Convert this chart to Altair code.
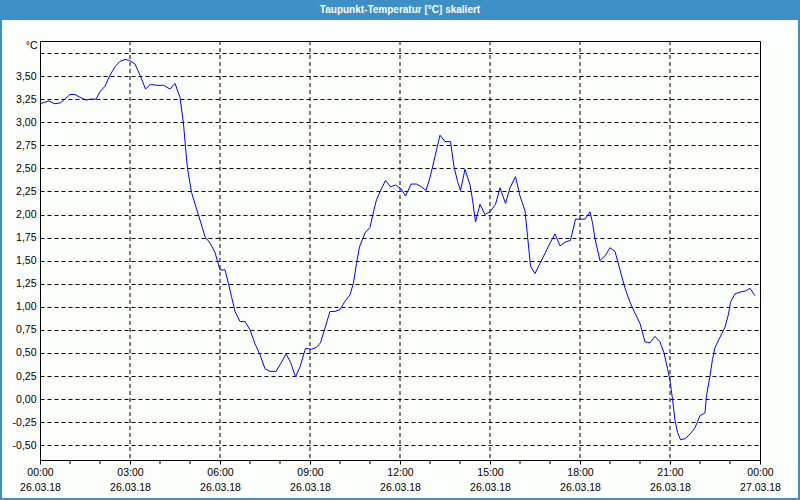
import altair as alt
import pandas as pd

TITLE = "Taupunkt-Temperatur [°C] skaliert"

# minutes since 26.03.18 00:00
minutes = [0, 17, 30, 41, 60, 70, 80, 92, 100, 112, 120, 130, 140, 150, 160, 170, 179, 190,
           200, 211, 221, 233, 247, 260, 270, 280, 287, 291, 295, 303, 312, 320, 330, 340,
           350, 360, 370, 377, 383, 390, 400, 410, 420, 430, 440, 450, 460, 472, 482, 492,
           501, 511, 520, 531, 543, 553, 561, 570, 580, 590, 600, 610, 620, 627, 633, 639,
           650, 660, 667, 673, 683, 691, 701, 711, 722, 731, 742, 753, 763, 772, 780, 790,
           800, 810, 821, 828, 835, 841, 850, 860, 865, 871, 880, 890, 900, 911, 920, 931,
           940, 951, 960, 970, 975, 981, 990, 1000, 1010, 1020, 1030, 1040, 1050, 1061,
           1071, 1080, 1090, 1100, 1105, 1110, 1120, 1131, 1140, 1150, 1160, 1170, 1180,
           1190, 1200, 1210, 1220, 1230, 1240, 1248, 1255, 1260, 1265, 1270, 1275, 1281,
           1290, 1300, 1310, 1320, 1330, 1333, 1340, 1345, 1350, 1360, 1370, 1377, 1381,
           1390, 1400, 1410, 1420, 1430]
values = [3.20, 3.23, 3.20, 3.21, 3.30, 3.30, 3.27, 3.24, 3.25, 3.25, 3.33, 3.39, 3.51, 3.60,
          3.66, 3.68, 3.67, 3.63, 3.51, 3.36, 3.41, 3.40, 3.40, 3.36, 3.42, 3.27, 2.98, 2.73,
          2.50, 2.24, 2.08, 1.94, 1.76, 1.69, 1.59, 1.40, 1.40, 1.25, 1.11, 0.95, 0.84, 0.84,
          0.75, 0.60, 0.48, 0.33, 0.30, 0.30, 0.39, 0.49, 0.40, 0.24, 0.35, 0.55, 0.54, 0.56,
          0.61, 0.77, 0.95, 0.95, 0.97, 1.06, 1.13, 1.26, 1.47, 1.65, 1.80, 1.86, 2.03, 2.16,
          2.28, 2.37, 2.30, 2.32, 2.28, 2.20, 2.33, 2.33, 2.30, 2.26, 2.40, 2.63, 2.86, 2.79,
          2.79, 2.52, 2.36, 2.26, 2.49, 2.32, 2.16, 1.92, 2.11, 2.00, 2.03, 2.11, 2.29, 2.12,
          2.29, 2.41, 2.20, 2.04, 1.77, 1.44, 1.36, 1.47, 1.58, 1.69, 1.79, 1.66, 1.70, 1.72,
          1.95, 1.95, 1.95, 2.03, 1.91, 1.74, 1.50, 1.56, 1.64, 1.60, 1.40, 1.20, 1.05, 0.93,
          0.82, 0.62, 0.61, 0.68, 0.62, 0.50, 0.33, 0.20, 0.00, -0.23, -0.36, -0.44, -0.43,
          -0.38, -0.31, -0.18, -0.15, 0.04, 0.25, 0.43, 0.56, 0.67, 0.78, 0.92, 1.05, 1.14,
          1.16, 1.17, 1.20, 1.12]

x_tick_minutes = [0, 180, 360, 540, 720, 900, 1080, 1260, 1440]
x_tick_times = ["00:00", "03:00", "06:00", "09:00", "12:00", "15:00", "18:00", "21:00", "00:00"]
x_tick_dates = ["26.03.18"] * 8 + ["27.03.18"]
x_minor_minutes = [60, 120, 240, 300, 420, 480, 600, 660, 780, 840, 960, 1020, 1140, 1200,
                   1320, 1380]
x_grid_minutes = [180, 360, 540, 720, 900, 1080, 1260]
y_ticks = [-0.5, -0.25, 0.0, 0.25, 0.5, 0.75, 1.0, 1.25, 1.5, 1.75, 2.0, 2.25, 2.5, 2.75,
           3.0, 3.25, 3.5, 3.75]

FONT = "Liberation Sans"
BLUE = "#3d8fc6"

df = pd.DataFrame({"minute": minutes, "value": values})
grid_df = pd.DataFrame({"minute": x_grid_minutes})
minor_df = pd.DataFrame({"minute": x_minor_minutes})
title_df = pd.DataFrame({"t": [TITLE]})

x_expr = "''"
for m, t, d in reversed(list(zip(x_tick_minutes, x_tick_times, x_tick_dates))):
    x_expr = f"datum.value == {m} ? ['{t}', '{d}'] : {x_expr}"

y_expr = ("datum.value > 3.7 ? '' : replace(replace(format(datum.value, '.2f'), '.', ','), "
          "'\u2212', '-')")

xscale = alt.Scale(domain=[0, 1440], nice=False, zero=False)
yscale = alt.Scale(domain=[-0.66, 3.88], nice=False, zero=False)

x_axis = alt.Axis(values=x_tick_minutes, labelExpr=x_expr, grid=False, tickSize=4,
                  tickColor="black", domainColor="black", labelFont=FONT, labelFontSize=10.5,
                  labelColor="black", labelPadding=3, labelLineHeight=15, labelFlush=False,
                  labelOverlap=False, labelBound=False, labelBaseline="top", title=None)
y_axis = alt.Axis(values=y_ticks, labelExpr=y_expr, grid=True, gridColor="black",
                  gridDash=[4, 3], gridOpacity=1, gridWidth=1, ticks=False,
                  domainColor="black", labelFont=FONT, labelFontSize=10.5, labelColor="black",
                  labelPadding=4, labelOverlap=False, labelBound=False, labelFlush=False,
                  title="°C", titleAngle=0, titleX=-3, titleY=4, titleAlign="right",
                  titleBaseline="middle", titleFont=FONT, titleFontSize=10.5,
                  titleFontWeight="normal", titleColor="black")

line = alt.Chart(df).mark_line(color="#0000ff", strokeWidth=1).encode(
    x=alt.X("minute:Q", scale=xscale, axis=x_axis),
    y=alt.Y("value:Q", scale=yscale, axis=y_axis),
)

vgrid = alt.Chart(grid_df).mark_rule(color="black", strokeDash=[4, 3], strokeWidth=1).encode(
    x=alt.X("minute:Q", scale=xscale)
)

minor_ticks = alt.Chart(minor_df).mark_rule(color="black", strokeWidth=1).encode(
    x=alt.X("minute:Q", scale=xscale), y=alt.value(419), y2=alt.value(423)
)

band = alt.Chart(title_df).mark_rect(color=BLUE).encode(
    x=alt.value(-40), x2=alt.value(760), y=alt.value(-41), y2=alt.value(-21)
)
border = alt.Chart(title_df).mark_rect(fill=None, fillOpacity=0, stroke=BLUE,
                                       strokeWidth=2).encode(
    x=alt.value(-39), x2=alt.value(759), y=alt.value(-40), y2=alt.value(458)
)
title_txt = alt.Chart(title_df).mark_text(color="white", font=FONT, fontSize=10,
                                          fontWeight="bold", align="center",
                                          baseline="middle").encode(
    x=alt.value(360), y=alt.value(-31), text="t:N"
)

chart = alt.layer(vgrid, minor_ticks, line, border, band, title_txt).properties(
    width=720, height=419,
    autosize=alt.AutoSizeParams(type="none"),
    padding={"left": 40, "top": 41, "right": 40, "bottom": 40},
    background="#fcfefc",
).configure_view(stroke="black", strokeWidth=1)

chart.save("out.html", embed_options={"renderer": "svg", "actions": False})
